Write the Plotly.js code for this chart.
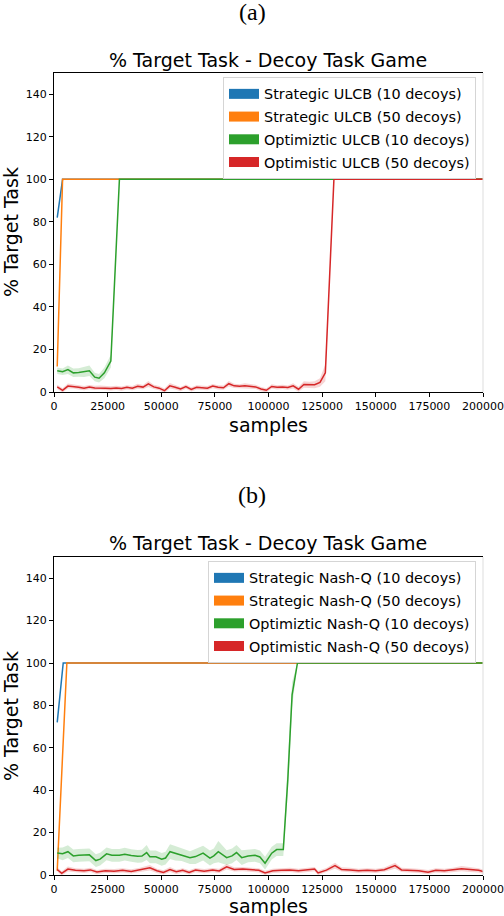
<!DOCTYPE html>
<html>
<head>
<meta charset="utf-8">
<script src="https://cdn.plot.ly/plotly-3.0.1.min.js"></script>
<style>
  body { margin: 0; background: #fff; }
  #chart { width: 504px; height: 916px; }
</style>
</head>
<body>
<div id="chart"></div>
<script>
// tick labels
const xTicks = [0, 25000, 50000, 75000, 100000, 125000, 150000, 175000, 200000]
const xTickText = ['0', '25000', '50000', '75000', '100000', '125000', '150000', '175000', '200000']
const yTicks = [0, 20, 40, 60, 80, 100, 120, 140]

// legend names
const namesA = ['Strategic ULCB (10 decoys)', 'Strategic ULCB (50 decoys)', 'Optimiztic ULCB (10 decoys)', 'Optimistic ULCB (50 decoys)']
const namesB = ['Strategic Nash-Q (10 decoys)', 'Strategic Nash-Q (50 decoys)', 'Optimiztic Nash-Q (10 decoys)', 'Optimistic Nash-Q (50 decoys)']

// ---- panel (a) ----
const aBlueX = [1500, 4000, 200000]
const aBlueY = [82, 100, 100]

const aOrangeX = [1500, 4000, 200000]
const aOrangeY = [12, 100, 100]

const aGreenX = [1500, 4000, 6500, 9000, 11500, 14000, 16500, 19000, 21000, 23500, 26500, 30500, 200000]
const aGreenY = [10, 9.5, 10.5, 9, 9.2, 9.5, 10, 7, 6.5, 9, 14.5, 100, 100]
const aGreenS = [1.5, 1.5, 2, 2, 2, 2.5, 2.5, 2, 2, 2.5, 3, 0, 0]

const aRedX = [1500, 4000, 6500, 9000, 11500, 14000, 16500, 19000, 21500, 24000,
  26500, 29000, 31500, 34000, 36500, 39000, 41500, 44000, 46500, 49000,
  51500, 54000, 56500, 59000, 61500, 64000, 66500, 69000, 71500, 74000,
  76500, 79000, 81500, 84000, 86500, 89000, 91500, 94000, 96500, 99000,
  101500, 104000, 106500, 109000, 111500, 114000, 116500, 119000, 121500, 124000,
  126500, 130500, 200000]
const aRedY = [2.4, 0.8, 2.8, 2.6, 2.2, 1.8, 2.3, 1.9, 2.0, 1.8,
  1.7, 1.9, 1.6, 2.2, 1.8, 2.7, 2.3, 3.8, 2.4, 1.8,
  0.6, 2.9, 2.2, 1.4, 2.5, 1.2, 2.2, 2.0, 1.8, 2.8,
  2.2, 2.0, 3.9, 2.9, 2.7, 2.9, 2.6, 2.4, 1.4, 0.8,
  2.6, 2.2, 2.4, 2.1, 2.9, 1.3, 3.5, 3.3, 3.4, 4.5,
  9, 100, 100]
const aRedS = [1, 1, 1.2, 1, 1, 1, 1, 1, 1, 1,
  1, 1, 1, 1, 1, 1.2, 1, 1.4, 1, 1,
  1, 1.3, 1, 1, 1, 1, 1, 1, 1, 1,
  1, 1, 1.3, 1, 1, 1.2, 1, 1, 1, 1,
  1, 1, 1, 1, 1.2, 1.2, 1.5, 1.5, 1.6, 2,
  4, 0, 0]

// ---- panel (b) ----
const bBlueX = [1500, 4300, 200000]
const bBlueY = [72, 100, 100]

const bOrangeX = [1500, 6000, 200000]
const bOrangeY = [2, 100, 100]

const bGreenX = [1500, 4000, 6500, 9000, 11500, 14000, 16500, 19500, 21500, 24500,
  27000, 30500, 33000, 36000, 39000, 41000, 43200, 44700, 47500, 50200,
  52000, 54100, 56500, 59500, 63400, 66000, 69500, 72700, 74500, 76600,
  80500, 83000, 85100, 87500, 90500, 93700, 96000, 98400, 101500, 103800,
  106900, 109000, 111000, 113500, 200000]
const bGreenY = [10.4, 10, 11, 9, 9.3, 9.5, 9.5, 6.8, 7.5, 10,
  9.3, 9.3, 9.8, 9.2, 8.8, 8.9, 10.6, 8.6, 8.6, 7.4,
  8, 11, 10.3, 9.6, 8.2, 8.7, 10.3, 8, 9, 11,
  8.2, 9, 10.6, 8.2, 9, 9.3, 8.5, 5.6, 10.3, 12,
  12, 45, 85, 100, 100]
const bGreenS = [2.5, 3, 3, 3, 3, 3, 3, 3, 3, 3,
  3, 3, 3, 3, 3, 3, 3.5, 3, 3, 3,
  3, 3.5, 3.5, 3, 3, 3.5, 3.5, 3.5, 3.5, 5,
  3.5, 3.5, 3.5, 3.5, 3, 3, 3, 3, 3, 3,
  3, 6, 6, 0, 0]

const bRedX = [1500, 3600, 6500, 10000, 14000, 17000, 20000, 24000, 28000, 32000,
  36000, 40000, 44700, 48000, 51000, 54100, 57000, 60000, 63000, 66000,
  70000, 74000, 77000, 80500, 84000, 88000, 92000, 95500, 98400, 102000,
  106000, 110000, 114000, 118000, 121500, 123100, 127000, 131000, 134000, 138000,
  142000, 146000, 150000, 154000, 159000, 162000, 166000, 170000, 174400, 178000,
  182000, 186000, 190000, 194000, 198000, 200000]
const bRedY = [2.6, 0.8, 2.8, 2.2, 2.0, 2.4, 1.4, 2.0, 1.8, 2.2,
  1.7, 2.4, 3.4, 2.0, 1.2, 2.6, 1.5, 2.2, 1.2, 2.3,
  1.8, 2.3, 1.9, 3.9, 2.6, 2.8, 2.4, 2.2, 1.0, 2.0,
  2.2, 2.4, 2.0, 2.6, 2.8, 1.0, 2.3, 4.4, 2.6, 2.4,
  2.0, 2.2, 2.0, 2.5, 4.4, 2.4, 2.2, 2.0, 1.3, 2.2,
  2.0, 2.4, 3.0, 2.6, 2.2, 1.6]
const bRedS = [1, 1, 1.2, 1, 1, 1, 1, 1, 1, 1,
  1, 1, 1.3, 1, 1, 1.2, 1, 1, 1, 1,
  1, 1, 1, 1.3, 1, 1, 1, 1, 1, 1,
  1, 1, 1, 1, 1, 1, 1, 1.4, 1, 1,
  1, 1, 1, 1, 1.4, 1, 1, 1, 1, 1,
  1, 1, 1.2, 1.2, 1, 1]

const colors = ['#1f77b4', '#ff7f0e', '#2ca02c', '#d62728']
const bandColors = ['rgba(31,119,180,0.2)', 'rgba(255,127,14,0.2)', 'rgba(44,160,44,0.2)', 'rgba(214,39,40,0.2)']

function line(x, y, c, xa, ya) {
    return {x: x, y: y, xaxis: xa, yaxis: ya, mode: 'lines', type: 'scatter',
        line: {color: c, width: 1.5}, showlegend: false, hoverinfo: 'skip'}
}

function band(x, y, s, c, xa, ya) {
    let up = y.map((v, i) => v + s[i])
    let lo = y.map((v, i) => v - s[i])
    return [
        {x: x, y: up, xaxis: xa, yaxis: ya, mode: 'lines', type: 'scatter',
            line: {width: 0, color: c}, showlegend: false, hoverinfo: 'skip'},
        {x: x, y: lo, xaxis: xa, yaxis: ya, mode: 'lines', type: 'scatter', fill: 'tonexty',
            fillcolor: c, line: {width: 0, color: c}, showlegend: false, hoverinfo: 'skip'}
    ]
}

// legend-only entries, drawn as thick patches
function patch(name, c, xa, ya, lg, i) {
    return {x: [null], y: [null], xaxis: xa, yaxis: ya, mode: 'lines', type: 'scatter',
        name: name, line: {color: c, width: 10}, legend: lg, legendgroup: lg + i, hoverinfo: 'skip'}
}

let traces = []
traces.push(line(aBlueX, aBlueY, colors[0], 'x', 'y'))
traces.push(line(aOrangeX, aOrangeY, colors[1], 'x', 'y'))
traces.push(...band(aGreenX, aGreenY, aGreenS, bandColors[2], 'x', 'y'))
traces.push(line(aGreenX, aGreenY, colors[2], 'x', 'y'))
traces.push(...band(aRedX, aRedY, aRedS, bandColors[3], 'x', 'y'))
traces.push(line(aRedX, aRedY, colors[3], 'x', 'y'))

traces.push(line(bBlueX, bBlueY, colors[0], 'x2', 'y2'))
traces.push(line(bOrangeX, bOrangeY, colors[1], 'x2', 'y2'))
traces.push(...band(bGreenX, bGreenY, bGreenS, bandColors[2], 'x2', 'y2'))
traces.push(line(bGreenX, bGreenY, colors[2], 'x2', 'y2'))
traces.push(...band(bRedX, bRedY, bRedS, bandColors[3], 'x2', 'y2'))
traces.push(line(bRedX, bRedY, colors[3], 'x2', 'y2'))

for (let i = 0; i < 4; i++) {
    traces.push(patch(namesA[i], colors[i], 'x', 'y', 'legend', i))
    traces.push(patch(namesB[i], colors[i], 'x2', 'y2', 'legend2', i))
}

const W = 504, H = 916
const font = 'DejaVu Sans, sans-serif'
const px = v => v / W
const py = v => 1 - v / H

function xaxis(anchor) {
    return {domain: [px(54), px(483)], anchor: anchor, range: [0, 200000],
        tickvals: xTicks, ticktext: xTickText, ticks: 'outside', ticklen: 4, tickcolor: '#000',
        showline: true, linecolor: '#000', linewidth: 1, mirror: true,
        showgrid: false, zeroline: false, tickfont: {family: font, size: 11, color: '#000'}}
}
function yaxis(anchor, top, bottom) {
    return {domain: [py(bottom), py(top)], anchor: anchor, range: [0, 150],
        tickvals: yTicks, ticks: 'outside', ticklen: 4, tickcolor: '#000',
        showline: true, linecolor: '#000', linewidth: 1,
        showgrid: false, zeroline: false, tickfont: {family: font, size: 11, color: '#000'}}
}

function legend(top) {
    return {x: px(476), xanchor: 'right', y: py(top), yanchor: 'top',
        bgcolor: 'rgba(255,255,255,0.8)', bordercolor: '#d5d5d5', borderwidth: 1,
        font: {family: font, size: 14.4, color: '#000'}, traceorder: 'grouped', tracegroupgap: 1,
        itemwidth: 30}
}

function text(t, x, y, size, fam, angle) {
    return {text: t, x: px(x), y: py(y), xref: 'paper', yref: 'paper', xanchor: 'center', yanchor: 'middle',
        showarrow: false, textangle: angle || 0, font: {family: fam, size: size, color: '#000'}}
}

const serif = 'Liberation Serif, Times New Roman, serif'
let layout = {
    width: W, height: H,
    margin: {l: 0, r: 0, t: 0, b: 0},
    paper_bgcolor: '#fff', plot_bgcolor: '#fff',
    xaxis: xaxis('y'), yaxis: yaxis('x', 73, 392),
    xaxis2: xaxis('y2'), yaxis2: yaxis('x2', 557, 875),
    legend: legend(77), legend2: legend(561),
    annotations: [
        text('(a)', 252, 12, 24, serif),
        text('(b)', 252, 495, 24, serif),
        text('% Target Task - Decoy Task Game', 268, 60, 19, font),
        text('% Target Task - Decoy Task Game', 268, 543, 19, font),
        text('% Target Task', 11, 232, 19, font, -90),
        text('% Target Task', 11, 716, 19, font, -90),
        text('samples', 268, 425, 19, font),
        text('samples', 268, 906, 19, font)
    ],
    shapes: [
        {type: 'line', xref: 'paper', yref: 'paper', x0: px(483), x1: px(483), y0: py(392), y1: py(73), line: {color: '#dddddd', width: 1}},
        {type: 'line', xref: 'paper', yref: 'paper', x0: px(483), x1: px(483), y0: py(875), y1: py(557), line: {color: '#dddddd', width: 1}}
    ]
}

Plotly.newPlot('chart', traces, layout, {staticPlot: true})
</script>
</body>
</html>
